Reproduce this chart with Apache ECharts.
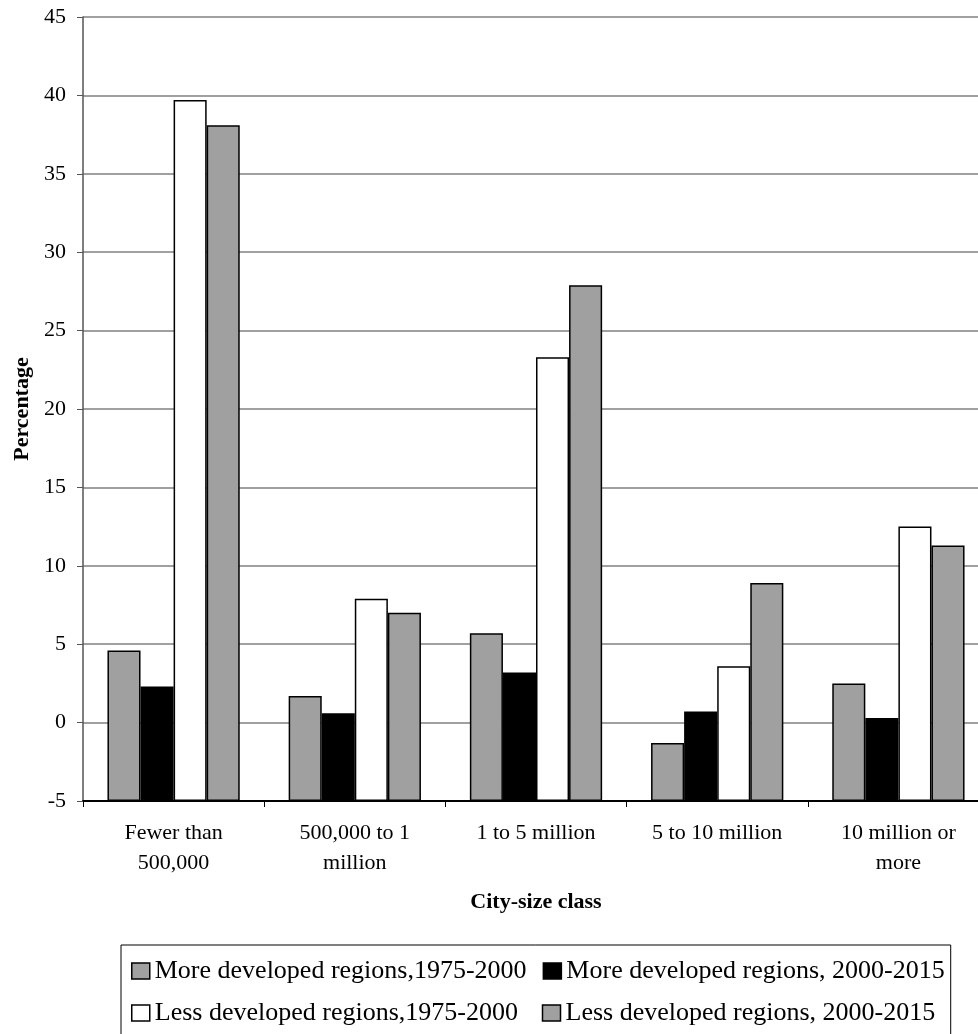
<!DOCTYPE html>
<html>
<head>
<meta charset="utf-8">
<script src="https://cdn.jsdelivr.net/npm/echarts@6/dist/echarts.min.js"></script>
<style>
html,body{margin:0;padding:0;background:#fff;}
#chart{width:978px;height:1034px;}
</style>
</head>
<body>
<div id="chart"></div>
<script>
const categories = ['Fewer than\n500,000', '500,000 to 1\nmillion', '1 to 5 million', '5 to 10 million', '10 million or\nmore'];
const seriesNames = ['More developed regions,1975-2000', 'More developed regions, 2000-2015', 'Less developed regions,1975-2000', 'Less developed regions, 2000-2015'];
const moreDev1975 = [4.6, 1.7, 5.7, -1.3, 2.5];
const moreDev2000 = [2.3, 0.6, 3.2, 0.7, 0.3];
const lessDev1975 = [39.7, 7.9, 23.3, 3.6, 12.5];
const lessDev2000 = [38.1, 7.0, 27.9, 8.9, 11.3];
const axisMin = -5;
const axisMax = 45;
const axisStep = 5;

const colors = ['#a0a0a0', '#000000', '#ffffff', '#a0a0a0'];
const FONT = 'Liberation Serif';
// Bars in the reference rise from the axis floor (-5), so values are measured from it.
const fromFloor = arr => arr.map(v => +(v - axisMin).toFixed(2));

const chart = echarts.init(document.getElementById('chart'), null, {renderer: 'canvas'});
const allData = [moreDev1975, moreDev2000, lessDev1975, lessDev2000];

chart.setOption({
  animation: false,
  backgroundColor: '#fff',
  grid: {left: 83, right: -11, top: 17, bottom: 233, containLabel: false, outerBoundsMode: 'none'},
  xAxis: {
    type: 'category',
    data: categories,
    boundaryGap: true,
    axisLine: {show: true, lineStyle: {color: '#000', width: 2}},
    axisTick: {show: true, length: 6, lineStyle: {color: '#000', width: 1}},
    axisLabel: {interval: 0, margin: 17, color: '#000', fontFamily: FONT, fontSize: 22, lineHeight: 30},
    name: 'City-size class',
    nameLocation: 'middle',
    nameGap: 90,
    nameTextStyle: {color: '#000', fontFamily: FONT, fontSize: 22, fontWeight: 'bold'}
  },
  yAxis: {
    type: 'value',
    min: 0,
    max: axisMax - axisMin,
    interval: axisStep,
    axisLine: {show: true, lineStyle: {color: '#555', width: 1.5}},
    axisTick: {show: true, length: 6, lineStyle: {color: '#555', width: 1}},
    axisLabel: {margin: 17, color: '#000', fontFamily: FONT, fontSize: 22,
      formatter: v => String(v + axisMin)},
    splitLine: {show: true, lineStyle: {color: '#808080', width: 1.5}},
    name: 'Percentage',
    nameLocation: 'middle',
    nameGap: 50,
    nameTextStyle: {color: '#000', fontFamily: FONT, fontSize: 22, fontWeight: 'bold'}
  },
  legend: {
    show: true,
    selectedMode: false,
    left: 121,
    top: 945,
    width: 900,
    orient: 'horizontal',
    padding: [13, 6, 16, 10],
    itemGap: 16,
    itemWidth: 18,
    itemHeight: 16,
    icon: 'rect',
    borderColor: '#000',
    borderWidth: 1,
    itemStyle: {borderColor: '#000', borderWidth: 1.5},
    formatter: name => '{a|' + name + '}',
    textStyle: {
      color: '#000', fontFamily: FONT, fontSize: 26,
      rich: {a: {width: 371, fontSize: 26, lineHeight: 26, fontFamily: FONT, color: '#000'}}
    },
    data: seriesNames
  },
  series: allData.map((arr, i) => ({
    name: seriesNames[i],
    type: 'bar',
    data: fromFloor(arr),
    barGap: '0%',
    barCategoryGap: '27%',
    itemStyle: {color: colors[i], borderColor: '#000', borderWidth: 1.5},
    emphasis: {disabled: true}
  }))
});
</script>
</body>
</html>
